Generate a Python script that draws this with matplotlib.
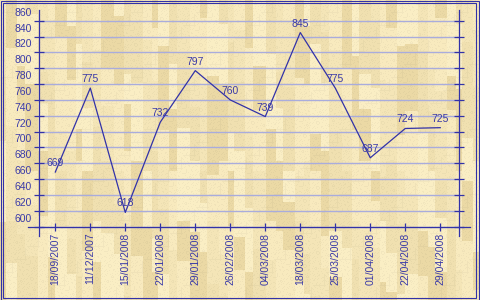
"""
  Price history line chart on a wooden background
"""
import numpy as np
import matplotlib
matplotlib.use('Agg')
import matplotlib.pyplot as plt
from matplotlib.patches import Rectangle
from matplotlib.transforms import ScaledTranslation

dates = ['18/09/2007', '11/12/2007', '15/01/2008', '22/01/2008', '29/01/2008',
         '26/02/2008', '04/03/2008', '18/03/2008', '25/03/2008', '01/04/2008',
         '22/04/2008', '29/04/2008']
values = [669, 775, 618, 732, 797, 760, 739, 845, 775, 687, 724, 725]
y_ticks = list(range(600, 861, 20))

LINE = '#3232a8'
TEXT = '#3a3aa8'
GRID = '#a9acdc'


def wood_texture(h, w):
    # plank pattern, deterministic
    tones = np.array([[248, 234, 190], [240, 224, 176], [235, 217, 165],
                      [244, 229, 183], [250, 238, 196]]) / 255.0
    img = np.zeros((h, w, 3))
    x = 0
    col = 0
    while x < w:
        pw = 6 + (col * 37) % 8
        y = -((col * 53) % 40)
        seg = 0
        while y < h:
            sl = 30 + (col * 31 + seg * 17) % 70
            img[max(y, 0):max(y + sl, 0), x:x + pw] = tones[(col * 7 + seg * 3) % 5]
            y += sl
            seg += 1
        x += pw
        col += 1
    ii, jj = np.mgrid[0:h, 0:w]
    speck = ((ii * 131 + jj * 71 + (ii * jj) % 13) % 5) == 0
    img[speck] *= 0.97
    return img


plt.rcParams['font.family'] = ['Liberation Sans', 'DejaVu Sans']

fig = plt.figure(figsize=(4.8, 3.0), dpi=100)

bg = fig.add_axes([0, 0, 1, 1])
bg.imshow(wood_texture(300, 480), aspect='auto', interpolation='nearest')
bg.add_patch(Rectangle((0, 0), 478, 299, fill=False, ec=LINE, lw=0.8))
bg.add_patch(Rectangle((2.5, 2.5), 472.5, 294.5, fill=False, ec=LINE, lw=0.8))
bg.axis('off')

ax = fig.add_axes([28 / 480, 64 / 300, 442 / 480, 226 / 300])
ax.set_facecolor('none')
x_left, x_right = -0.474, 11.543
ax.set_xlim(-0.78, 11.85)
ax.set_ylim(588.3, 873.5)

ax.spines['top'].set_visible(False)
ax.spines['bottom'].set_position(('data', 600))
ax.spines['left'].set_position(('data', x_left))
ax.spines['right'].set_position(('data', x_right))
for s in ('bottom', 'left', 'right'):
    ax.spines[s].set_color(LINE)
    ax.spines[s].set_linewidth(0.9)

ax.hlines(y_ticks, x_left, x_right, color=GRID, lw=1.0, zorder=0.5)

xs = np.arange(len(values))
ax.plot(xs, values, color=LINE, lw=0.9, zorder=3)
for x, v in zip(xs, values):
    ax.annotate(str(v), (x, v), xytext=(0, 6.5), textcoords='offset points',
                ha='center', va='center', color=TEXT, fontsize=7.5, zorder=4)

ax.set_yticks(y_ticks)
ax.set_yticklabels([str(t) for t in y_ticks])
ax.tick_params(axis='y', direction='inout', length=6.5, width=0.9, color=LINE,
               labelcolor=TEXT, labelsize=7.5, left=True, right=True,
               labelright=False, pad=1.5)
shift = ScaledTranslation(0, 9 / 100, fig.dpi_scale_trans)
for lab in ax.get_yticklabels():
    lab.set_transform(lab.get_transform() + shift)

ax.set_xticks(xs)
ax.set_xticklabels(dates, rotation=90)
ax.tick_params(axis='x', direction='inout', length=5.8, width=0.9, color=LINE,
               labelcolor=TEXT, labelsize=7.5, pad=1.5)

fig.savefig('out.png', dpi=100)
